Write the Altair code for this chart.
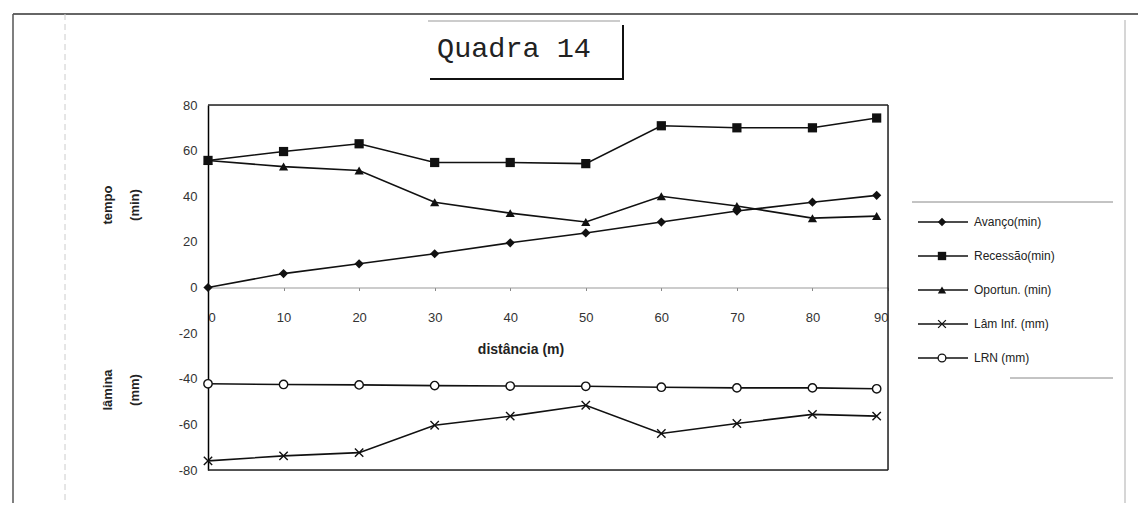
import altair as alt
import pandas as pd

# ---- data ----
distancia = [0, 10, 20, 30, 40, 50, 60, 70, 80, 88.5]
avanco = [0, 6.1, 10.4, 14.8, 19.6, 23.9, 28.7, 33.5, 37.4, 40.4]
recessao = [55.7, 59.6, 63, 54.8, 54.8, 54.3, 70.9, 70, 70, 74.3]
oportun = [55.7, 53, 51.3, 37.4, 32.6, 28.7, 40, 35.7, 30.4, 31.3]
lam_inf = [-76, -73.8, -72.4, -60.4, -56.4, -51.6, -64, -59.6, -55.6, -56.4]
lrn = [-42.2, -42.5, -42.7, -43, -43.2, -43.3, -43.7, -44, -44, -44.4]

series_names = ["Avanço(min)", "Recessão(min)", "Oportun. (min)", "Lâm Inf. (mm)", "LRN (mm)"]
series_values = [avanco, recessao, oportun, lam_inf, lrn]
x_ticks = [0, 10, 20, 30, 40, 50, 60, 70, 80, 90]
y_ticks = [-80, -60, -40, -20, 0, 20, 40, 60, 80]
shapes = ["diamond", "square", "triangle-up", "M-1,-1L1,1M-1,1L1,-1", "circle"]
filled_series = series_names[:3]
hollow_series = series_names[3:]

rows = []
for name, vals in zip(series_names, series_values):
    for d, v in zip(distancia, vals):
        rows.append({"series": name, "dist": d, "val": v})
df = pd.DataFrame(rows)

legend_df = pd.DataFrame({"series": series_names, "rank": list(range(len(series_names)))})
one = pd.DataFrame({"k": [0]})

W, H = 680, 365

xenc = alt.X("dist:Q", scale=alt.Scale(domain=[0, 90], nice=False, zero=False),
             axis=alt.Axis(values=x_ticks, grid=False, offset=-182.5, tickSize=3,
                           tickColor="#888", domainColor="#999", domainWidth=1,
                           labelPadding=21, labelFontSize=13, labelColor="#333",
                           format="d", title=None))
yenc = alt.Y("val:Q", scale=alt.Scale(domain=[-80, 80], nice=False),
             axis=alt.Axis(values=y_ticks, grid=False, ticks=False, tickSize=0,
                           labelPadding=11, labelFontSize=13, labelColor="#333",
                           labelExpr="toString(datum.value)",
                           domainColor="black", domainWidth=1.5, title=None))
shape_scale = alt.Scale(domain=series_names, range=shapes)

base = alt.Chart(df)
lines = base.mark_line(color="#111", strokeWidth=1.6).encode(
    x=xenc, y=yenc, detail="series:N", order="dist:Q")
pts_filled = base.transform_filter(
    alt.FieldOneOfPredicate(field="series", oneOf=filled_series)
).mark_point(filled=True, color="#111", opacity=1, size=85).encode(
    x=xenc, y=yenc, shape=alt.Shape("series:N", scale=shape_scale, legend=None))
pts_hollow = base.transform_filter(
    alt.FieldOneOfPredicate(field="series", oneOf=hollow_series)
).mark_point(filled=False, fill="white", color="#111", opacity=1, size=70, strokeWidth=1.4).encode(
    x=xenc, y=yenc, shape=alt.Shape("series:N", scale=shape_scale, legend=None))

# ---- decorations (frame, titles) ----
def rule(x1, x2, y1, y2, color="#222", width=1.0, dash=None):
    kw = dict(color=color, strokeWidth=width)
    if dash:
        kw["strokeDash"] = dash
    return alt.Chart(one).mark_rule(**kw).encode(
        x=alt.value(x1), x2=alt.value(x2), y=alt.value(y1), y2=alt.value(y2))

def text(t, x, y, size=13, bold=False, font="Liberation Sans", angle=0, align="center", color="#222"):
    kw = dict(text=t, fontSize=size, font=font, align=align, baseline="middle", color=color)
    if bold:
        kw["fontWeight"] = "bold"
    if angle:
        kw["angle"] = angle
    return alt.Chart(one).mark_text(**kw).encode(x=alt.value(x), y=alt.value(y))

deco = [
    # plot border
    rule(0, W, 0, 0, color="#222", width=1.5),
    rule(W, W, 0, H, color="#222", width=1.5),
    rule(0, W, H, H, color="#222", width=1.5),
    # outer frame
    rule(-195, 940, -91, -91, color="#333", width=1.5),
    rule(-195, -195, -91, 398, color="#555", width=1.5),
    rule(917, 917, -85, 398, color="#bbb", width=1.2),
    rule(-143, -143, -91, 398, color="#ccc", width=1, dash=[6, 4]),
    # title box
    rule(220, 412, -84, -84, color="#999", width=1),
    rule(415, 415, -80, -25, color="#111", width=2),
    rule(222, 415, -26, -26, color="#111", width=2),
    text("Quadra 14", 306, -57, size=28.5, font="Liberation Mono", color="#222"),
    # axis titles
    text("distância (m)", 313, 245, size=14, bold=True),
    text("tempo", -100, 100, size=13, bold=True, angle=270),
    text("(min)", -73, 100, size=13, bold=True, angle=270),
    text("lâmina", -100, 285, size=13, bold=True, angle=270),
    text("(mm)", -73, 285, size=13, bold=True, angle=270),
    # legend frame lines
    rule(704, 905, 97, 97, color="#888", width=1),
    rule(802, 905, 273, 273, color="#888", width=1),
]

main = alt.layer(lines, pts_filled, pts_hollow, *deco)

# ---- legend ----
ly = alt.Y("rank:Q", scale=alt.Scale(domain=[0, 4], range=[117, 253]), axis=None)
lbase = alt.Chart(legend_df)
leg_lines = lbase.mark_rule(color="#111", strokeWidth=1.3).encode(
    x=alt.value(710), x2=alt.value(760), y=ly)
leg_f = lbase.transform_filter(
    alt.FieldOneOfPredicate(field="series", oneOf=filled_series)
).mark_point(filled=True, color="#111", opacity=1, size=70).encode(
    x=alt.value(734), y=ly, shape=alt.Shape("series:N", scale=shape_scale, legend=None))
leg_h = lbase.transform_filter(
    alt.FieldOneOfPredicate(field="series", oneOf=hollow_series)
).mark_point(filled=False, fill="white", color="#111", opacity=1, size=60, strokeWidth=1.3).encode(
    x=alt.value(734), y=ly, shape=alt.Shape("series:N", scale=shape_scale, legend=None))
leg_t = lbase.mark_text(align="left", baseline="middle", fontSize=12, color="#222",
                        font="Liberation Sans").encode(
    x=alt.value(766), y=ly, text="series:N")
legend = alt.layer(leg_lines, leg_f, leg_h, leg_t)

chart = alt.layer(main, legend).resolve_scale(y="independent").properties(
    width=W, height=H,
    autosize=alt.AutoSizeParams(type="none"),
    padding={"left": 200, "top": 97, "right": 250, "bottom": 34},
    background="white",
).configure_view(stroke=None).configure(font="Liberation Sans")

chart.save("out.html", embed_options={"renderer": "svg", "actions": False})
